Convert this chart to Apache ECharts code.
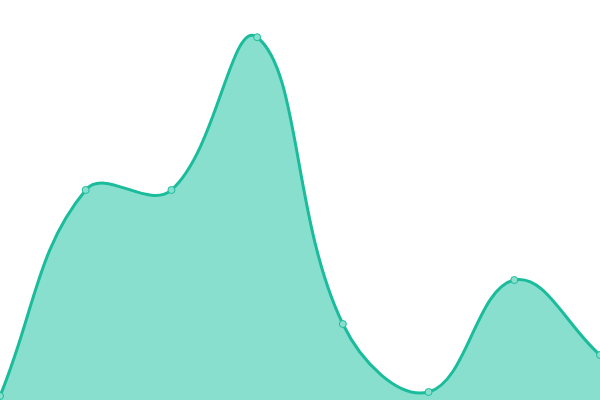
<html>
<head>
<meta charset="utf-8">
<script src="https://cdn.jsdelivr.net/npm/echarts@6/dist/echarts.min.js"></script>
<style>
html, body { margin: 0; padding: 0; background: #fff; }
#main { width: 600px; height: 400px; }
</style>
</head>
<body>
<div id="main"></div>
<script>
var categories = ['1', '2', '3', '4', '5', '6', '7', '8'];
var values = [1, 52.5, 52.5, 90.7, 19, 2, 30, 11.25];

var lineColor = '#1abc9c';
var fillColor = '#89dfce';
var tension = 0.4;

var chart = echarts.init(document.getElementById('main'));

// spline through the points, control points weighted by segment length
function buildPaths(pts, rect) {
  var cps = pts.map(function (p, i) {
    var prev = pts[i - 1] || p, next = pts[i + 1] || p;
    var d01 = Math.hypot(p[0] - prev[0], p[1] - prev[1]);
    var d12 = Math.hypot(next[0] - p[0], next[1] - p[1]);
    var s01 = d01 / (d01 + d12) || 0, s12 = d12 / (d01 + d12) || 0;
    var fa = tension * s01, fb = tension * s12;
    var dx = next[0] - prev[0], dy = next[1] - prev[1];
    var clampX = function (v) { return Math.max(rect.x, Math.min(rect.x + rect.width, v)); };
    var clampY = function (v) { return Math.max(rect.y, Math.min(rect.y + rect.height, v)); };
    return {
      prev: [clampX(p[0] - fa * dx), clampY(p[1] - fa * dy)],
      next: [clampX(p[0] + fb * dx), clampY(p[1] + fb * dy)]
    };
  });
  var d = 'M' + pts[0][0] + ',' + pts[0][1];
  for (var i = 1; i < pts.length; i++) {
    d += 'C' + cps[i - 1].next[0] + ',' + cps[i - 1].next[1] + ' ' +
      cps[i].prev[0] + ',' + cps[i].prev[1] + ' ' + pts[i][0] + ',' + pts[i][1];
  }
  return d;
}

chart.setOption({
  animation: false,
  grid: { left: 0, right: 0, top: 0, bottom: 0 },
  xAxis: {
    type: 'category',
    data: categories,
    boundaryGap: false,
    show: false
  },
  yAxis: {
    type: 'value',
    min: 0,
    max: 100,
    show: false
  },
  series: [{
    type: 'custom',
    data: values,
    renderItem: function (params, api) {
      if (params.dataIndex !== 0) return;
      var pts = values.map(function (v, i) { return api.coord([i, v]); });
      var line = buildPaths(pts, params.coordSys);
      var base = api.coord([0, 0])[1];
      var area = line + 'L' + pts[pts.length - 1][0] + ',' + base + 'L' + pts[0][0] + ',' + base + 'Z';
      return {
        type: 'group',
        children: [
          { type: 'path', shape: { pathData: area }, style: { fill: fillColor, stroke: null } },
          { type: 'path', shape: { pathData: line }, style: { fill: null, stroke: lineColor, lineWidth: 3 } }
        ]
      };
    }
  }, {
    type: 'scatter',
    data: values,
    symbol: 'circle',
    symbolSize: 7,
    itemStyle: { color: fillColor, borderColor: lineColor, borderWidth: 1, opacity: 1 }
  }]
});
</script>
</body>
</html>
